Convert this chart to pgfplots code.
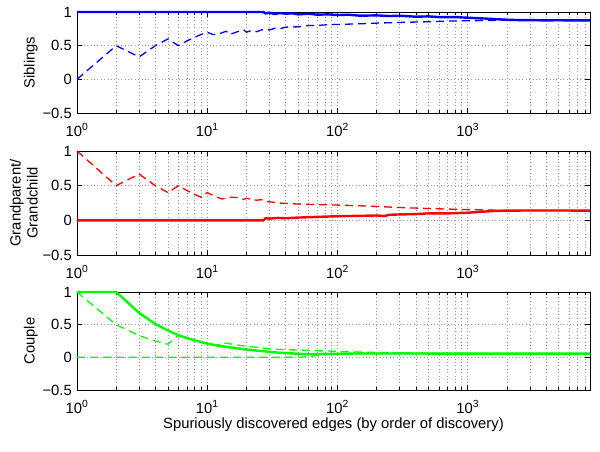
\documentclass[border=0pt]{standalone}
\usepackage{fontspec}
\setmainfont{Liberation Sans}
\usepackage{pgfplots}
\pgfplotsset{compat=1.18}
\definecolor{mblue}{rgb}{0,0,1}
\definecolor{mred}{rgb}{1,0,0}
\definecolor{mgreen}{rgb}{0,1,0}
\tikzset{
  solidline/.style={line width=2.4pt},
  dashline/.style={line width=1.3pt, dash pattern=on 8pt off 5pt},
}
\pgfplotsset{
  every axis/.append style={
    scale only axis, width=513pt, xmin=1, xmax=8700,
    ymin=-0.5, ymax=1, clip=false,
    font=\fontsize{14.8}{17}\selectfont,
    xtick={1,10,100,1000},
    xticklabels={10\textsuperscript{0},10\textsuperscript{1},10\textsuperscript{2},10\textsuperscript{3}},
    minor xtick={2,3,4,5,6,7,8,9,20,30,40,50,60,70,80,90,200,300,400,500,600,700,800,900,2000,3000,4000,5000,6000,7000,8000},
    ytick={-0.5,0,0.5,1},
    yticklabels={−0.5,0,0.5,1},
    grid=both,
    major grid style={gray!80, line width=0.5pt, dash pattern=on 0.8pt off 2.6pt},
    minor grid style={gray!80, line width=0.5pt, dash pattern=on 0.8pt off 2.6pt},
    tick align=inside, major tick length=5pt, minor tick length=3pt,
    tick style={black, line width=0.5pt},
    axis line style={black, line width=0.7pt},
    xticklabel style={anchor=base, yshift=-23pt, inner sep=0pt},
    yticklabel style={anchor=east, inner sep=0pt, xshift=-5pt},
    ylabel style={at={(axis description cs:-0.076,0.5)}, anchor=south, inner sep=0pt, align=center},
  }
}
\begin{document}
\begin{tikzpicture}
\useasboundingbox (0,0) rectangle (600pt,-451pt);
% ---------- Siblings ----------
\begin{axis}[xmode=log, at={(77pt,-12pt)}, anchor=north west, height=101pt, ylabel={Siblings}]
\addplot[mblue, solidline] coordinates {
(1,1) (27,1) (28,0.98) (30,0.99) (33,0.97) (36,0.985) (40,0.975) (45,0.98) (50,0.965) (60,0.975) (70,0.96) (85,0.965) (100,0.955) (120,0.96) (150,0.945) (200,0.95) (250,0.94) (300,0.945) (400,0.93) (500,0.935) (600,0.925) (800,0.925) (1000,0.915) (1300,0.905) (1600,0.895) (2000,0.885) (2500,0.88) (3000,0.88) (4000,0.875) (5000,0.878) (6000,0.875) (8700,0.875)
};
\addplot[mblue, dashline] coordinates {
(1,0) (2,0.5) (3,0.333) (4,0.5) (5,0.6) (6,0.5) (7,0.571) (8,0.625) (9,0.667) (10,0.7) (11,0.667) (12,0.667) (13,0.692) (14,0.714) (15,0.667) (16,0.688) (17,0.706) (18,0.722) (19,0.737) (20,0.7) (22,0.727) (24,0.708) (26,0.731) (28,0.75) (30,0.733) (33,0.758) (36,0.75) (40,0.775) (45,0.778) (50,0.78) (60,0.8) (70,0.8) (85,0.812) (100,0.815) (150,0.825) (200,0.835) (300,0.845) (500,0.855) (700,0.865) (1000,0.87) (1500,0.875) (2000,0.88) (3000,0.878) (5000,0.876) (8700,0.875)
};
\end{axis}
% ---------- Grandparent ----------
\begin{axis}[xmode=log, at={(77pt,-151pt)}, anchor=north west, height=104pt, ylabel={Grandparent/\\Grandchild}]
\addplot[mred, solidline] coordinates {
(1,0) (27,0) (28,0.03) (30,0.025) (35,0.035) (40,0.03) (50,0.04) (60,0.045) (70,0.05) (85,0.055) (100,0.06) (150,0.065) (200,0.07) (230,0.062) (250,0.08) (300,0.085) (400,0.09) (500,0.1) (700,0.1) (1000,0.11) (1300,0.125) (1600,0.135) (2000,0.14) (3000,0.142) (5000,0.142) (8700,0.14)
};
\addplot[mred, dashline] coordinates {
(1,1) (2,0.5) (3,0.667) (4,0.5) (5,0.4) (6,0.5) (7,0.429) (8,0.375) (9,0.333) (10,0.4) (11,0.364) (12,0.333) (13,0.308) (15,0.333) (17,0.33) (18,0.31) (19,0.30) (20,0.32) (22,0.30) (24,0.29) (26,0.3) (28,0.27) (30,0.27) (35,0.25) (40,0.245) (50,0.235) (60,0.23) (80,0.225) (100,0.22) (150,0.21) (200,0.2) (300,0.185) (500,0.17) (800,0.16) (1000,0.155) (1500,0.148) (2000,0.142) (3000,0.142) (8700,0.14)
};
\end{axis}
% ---------- Couple ----------
\begin{axis}[xmode=log, at={(77pt,-292pt)}, anchor=north west, height=98pt, ylabel={Couple},
  xlabel={Spuriously discovered edges (by order of discovery)},
  xlabel style={at={(axis description cs:0.5,0)}, anchor=base, yshift=-38.5pt, inner sep=0pt}]
\addplot[mgreen, solidline] coordinates {
(1,1) (2,1) (3,0.68) (4,0.51) (5,0.41) (6,0.34) (7,0.295) (8,0.26) (9,0.235) (10,0.21) (11,0.195) (12,0.18) (14,0.16) (16,0.145) (20,0.12) (25,0.1) (30,0.085) (36,0.07) (45,0.06) (55,0.05) (70,0.05) (85,0.055) (100,0.055) (150,0.06) (200,0.058) (300,0.06) (500,0.058) (1000,0.058) (2000,0.057) (5000,0.056) (8700,0.056)
};
\addplot[mgreen, dashline] coordinates {
(1,1) (2,0.5) (3,0.333) (4,0.25) (5,0.2) (6,0.34) (7,0.295) (8,0.26) (9,0.235) (10,0.21) (11,0.195) (12,0.18) (13,0.23) (14,0.214) (16,0.2) (18,0.18) (20,0.17) (25,0.15) (30,0.13) (36,0.12) (45,0.115) (55,0.11) (70,0.1) (88,0.096) (110,0.09) (150,0.08) (200,0.075) (300,0.07) (500,0.065) (1000,0.06) (2000,0.058) (8700,0.056)
};
\addplot[mgreen, dashline] coordinates {
(1,0) (50,0) (60,0.01) (70,0.03) (85,0.045) (100,0.05) (150,0.055) (200,0.06) (300,0.058) (500,0.06) (1000,0.058) (2000,0.057) (8700,0.056)
};
\end{axis}
\end{tikzpicture}
\end{document}
